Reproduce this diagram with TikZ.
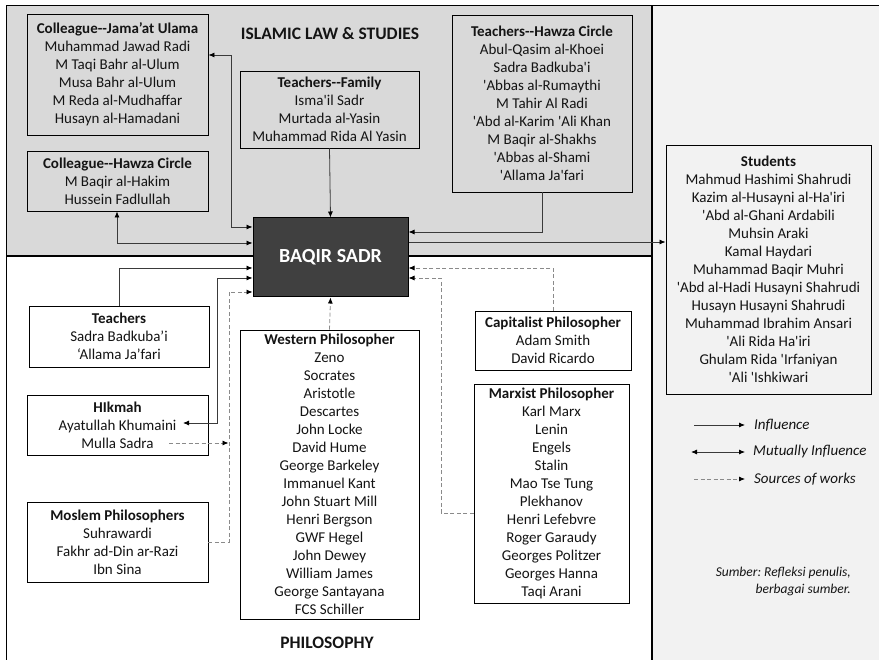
\documentclass[tikz,border=0pt]{standalone}
\usepackage{fontspec}
\setmainfont{Carlito}
\usetikzlibrary{arrows.meta}
\frenchspacing

\definecolor{lawgrey}{HTML}{D9D9D9}
\definecolor{sidegrey}{HTML}{F2F2F2}
\definecolor{sadrgrey}{HTML}{404040}
\definecolor{linegrey}{HTML}{3A3A3A}
\definecolor{dashgrey}{HTML}{8A8A8A}
\definecolor{inkgrey}{HTML}{141414}

\newcommand{\sq}{\textquotesingle}

\tikzset{
  >={Latex[length=6pt,width=5pt,color=black]},
  box/.style={draw=black, line width=0.9pt, inner sep=0pt, align=center,
    text=inkgrey, font=\fontsize{15}{18}\selectfont},
  heading/.style={inner sep=0pt, text=inkgrey, font=\bfseries\fontsize{17.5}{20}\selectfont},
  infl/.style={draw=linegrey, line width=0.8pt, ->},
  mutual/.style={draw=linegrey, line width=0.8pt, <->},
  src/.style={draw=dashgrey, line width=0.8pt, dash pattern=on 4pt off 2.5pt, ->},
  legendtext/.style={inner sep=0pt, anchor=west, text=inkgrey, font=\itshape\fontsize{15}{18}\selectfont}
}

\begin{document}
\begin{tikzpicture}[x=1pt,y=-1pt]
\useasboundingbox (0,0) rectangle (879,660);

% background regions
\fill[white] (0,0) rectangle (879,660);
\fill[sidegrey] (652,6) rectangle (879,660);
\fill[lawgrey] (6,6) rectangle (652,256);
\draw[black, line width=1pt] (6,660) -- (6,6) -- (879,6);
\draw[black, line width=1.2pt] (6,256) -- (652,256);
\draw[black, line width=1.8pt] (652,6) -- (652,660);

% region headings
\node[heading] (lawtitle) at (330,34) {ISLAMIC LAW \& STUDIES};
\node[heading] (philtitle) at (327,643) {PHILOSOPHY};

% islamic law & studies
\node[box, fill=lawgrey, minimum width=181pt, minimum height=121pt] (jama) at (117.5,74.5)
  {\textbf{Colleague-{}-Jama’at Ulama}\\Muhammad Jawad Radi\\M Taqi Bahr al-Ulum\\Musa Bahr al-Ulum\\M Reda al-Mudhaffar\\Husayn al-Hamadani};
\node[box, fill=lawgrey, minimum width=179pt, minimum height=77pt] (family) at (329.5,109.5)
  {\textbf{Teachers-{}-Family}\\Isma\sq il Sadr\\Murtada al-Yasin\\Muhammad Rida Al Yasin};
\node[box, fill=lawgrey, minimum width=181pt, minimum height=60pt] (hawzac) at (117.5,181)
  {\textbf{Colleague-{}-Hawza Circle}\\M Baqir al-Hakim\\Hussein Fadlullah};
\node[box, fill=lawgrey, minimum width=180pt, minimum height=177pt] (hawzat) at (542,103.5)
  {\textbf{Teachers-{}-Hawza Circle}\\Abul-Qasim al-Khoei\\Sadra Badkuba\sq i\\\sq Abbas al-Rumaythi\\M Tahir Al Radi\\\sq Abd al-Karim \sq Ali Khan\\M Baqir al-Shakhs\\\sq Abbas al-Shami\\\sq Allama Ja\sq fari};

% central figure
\node[draw=black, line width=1pt, fill=sadrgrey, minimum width=155pt, minimum height=79pt,
  text=white, font=\bfseries\fontsize{20}{24}\selectfont] (sadr) at (330.5,257.5) {BAQIR SADR};

% students
\node[box, fill=sidegrey, minimum width=205pt, minimum height=249pt] (students) at (768.5,269.5)
  {\textbf{Students}\\Mahmud Hashimi Shahrudi\\Kazim al-Husayni al-Ha\sq iri\\\sq Abd al-Ghani Ardabili\\Muhsin Araki\\Kamal Haydari\\Muhammad Baqir Muhri\\\sq Abd al-Hadi Husayni Shahrudi\\Husayn Husayni Shahrudi\\Muhammad Ibrahim Ansari\\\sq Ali Rida Ha\sq iri\\Ghulam Rida \sq Irfaniyan\\\sq Ali \sq Ishkiwari};

% philosophy
\node[box, fill=white, minimum width=180pt, minimum height=61pt] (teach) at (119,336.5)
  {\textbf{Teachers}\\Sadra Badkuba’i\\‘Allama Ja’fari};
\node[box, fill=white, minimum width=181pt, minimum height=60pt] (hikmah) at (117.5,425)
  {\textbf{HIkmah}\\Ayatullah Khumaini\\Mulla Sadra};
\node[box, fill=white, minimum width=181pt, minimum height=80pt] (moslem) at (117.5,542)
  {\textbf{Moslem Philosophers}\\Suhrawardi\\Fakhr ad-Din ar-Razi\\Ibn Sina};
\node[box, fill=white, minimum width=179pt, minimum height=289pt] (western) at (329.5,474.5)
  {\textbf{Western Philosopher}\\Zeno\\Socrates\\Aristotle\\Descartes\\John Locke\\David Hume\\George Barkeley\\Immanuel Kant\\John Stuart Mill\\Henri Bergson\\GWF Hegel\\John Dewey\\William James\\George Santayana\\FCS Schiller};
\node[box, fill=white, minimum width=156pt, minimum height=59pt] (capital) at (553,340.5)
  {\textbf{Capitalist Philosopher}\\Adam Smith\\David Ricardo};
\node[box, fill=white, minimum width=155pt, minimum height=219pt] (marx) at (551.5,493.5)
  {\textbf{Marxist Philosopher}\\Karl Marx\\Lenin\\Engels\\Stalin\\Mao Tse Tung\\Plekhanov\\Henri Lefebvre\\Roger Garaudy\\Georges Politzer\\Georges Hanna\\Taqi Arani};

% anchor points inside the HIkmah box
\coordinate (khumaini) at (183,423);
\coordinate (mullasadra) at (169,443);

% connectors: islamic law & studies
\draw[mutual] (jama.east |- 0,55) -| (231,227) -- (sadr.west |- 0,227);
\draw[mutual] (hawzac.south -| 117,0) |- (sadr.west |- 0,243);
\draw[infl] (family.south) -- (sadr.north);
\draw[infl] (hawzat.south -| 542,0) |- (sadr.east |- 0,232);
\draw[infl] (sadr.east |- 0,242) -- (students.west |- 0,242);

% connectors: philosophy
\draw[infl] (teach.north -| 119,0) |- (sadr.west |- 0,268);
\draw[mutual] (sadr.west |- 0,278) -| (217,423) -- (khumaini);
\draw[src] (moslem.east |- 0,542) -| (229,292) -- (sadr.west |- 0,292);
\draw[src] (mullasadra) -- (228.5,443);
\draw[src] (western.north) -- (sadr.south);
\draw[src] (capital.north -| 553,0) |- (sadr.east |- 0,268);
\draw[src] (marx.west |- 0,513) -| (441,278) -- (sadr.east |- 0,278);

% legend
\coordinate (la) at (694,425); \coordinate (lb) at (745,425);
\coordinate (lc) at (691,452); \coordinate (ld) at (745,452);
\coordinate (le) at (694,479); \coordinate (lf) at (745,479);
\draw[infl] (la) -- (lb);
\draw[mutual] (lc) -- (ld);
\draw[src] (le) -- (lf);
\node[legendtext] (linfl) at (754,425) {Influence};
\node[legendtext] (lmutual) at (753,452) {Mutually Influence};
\node[legendtext] (lsrc) at (754,479) {Sources of works};

% source note
\node[inner sep=0pt, anchor=east, align=right, text=inkgrey,
  font=\itshape\fontsize{13.5}{17}\selectfont] (source) at (851,581.5)
  {Sumber: Refleksi penulis,\\berbagai sumber.};
\end{tikzpicture}
\end{document}
